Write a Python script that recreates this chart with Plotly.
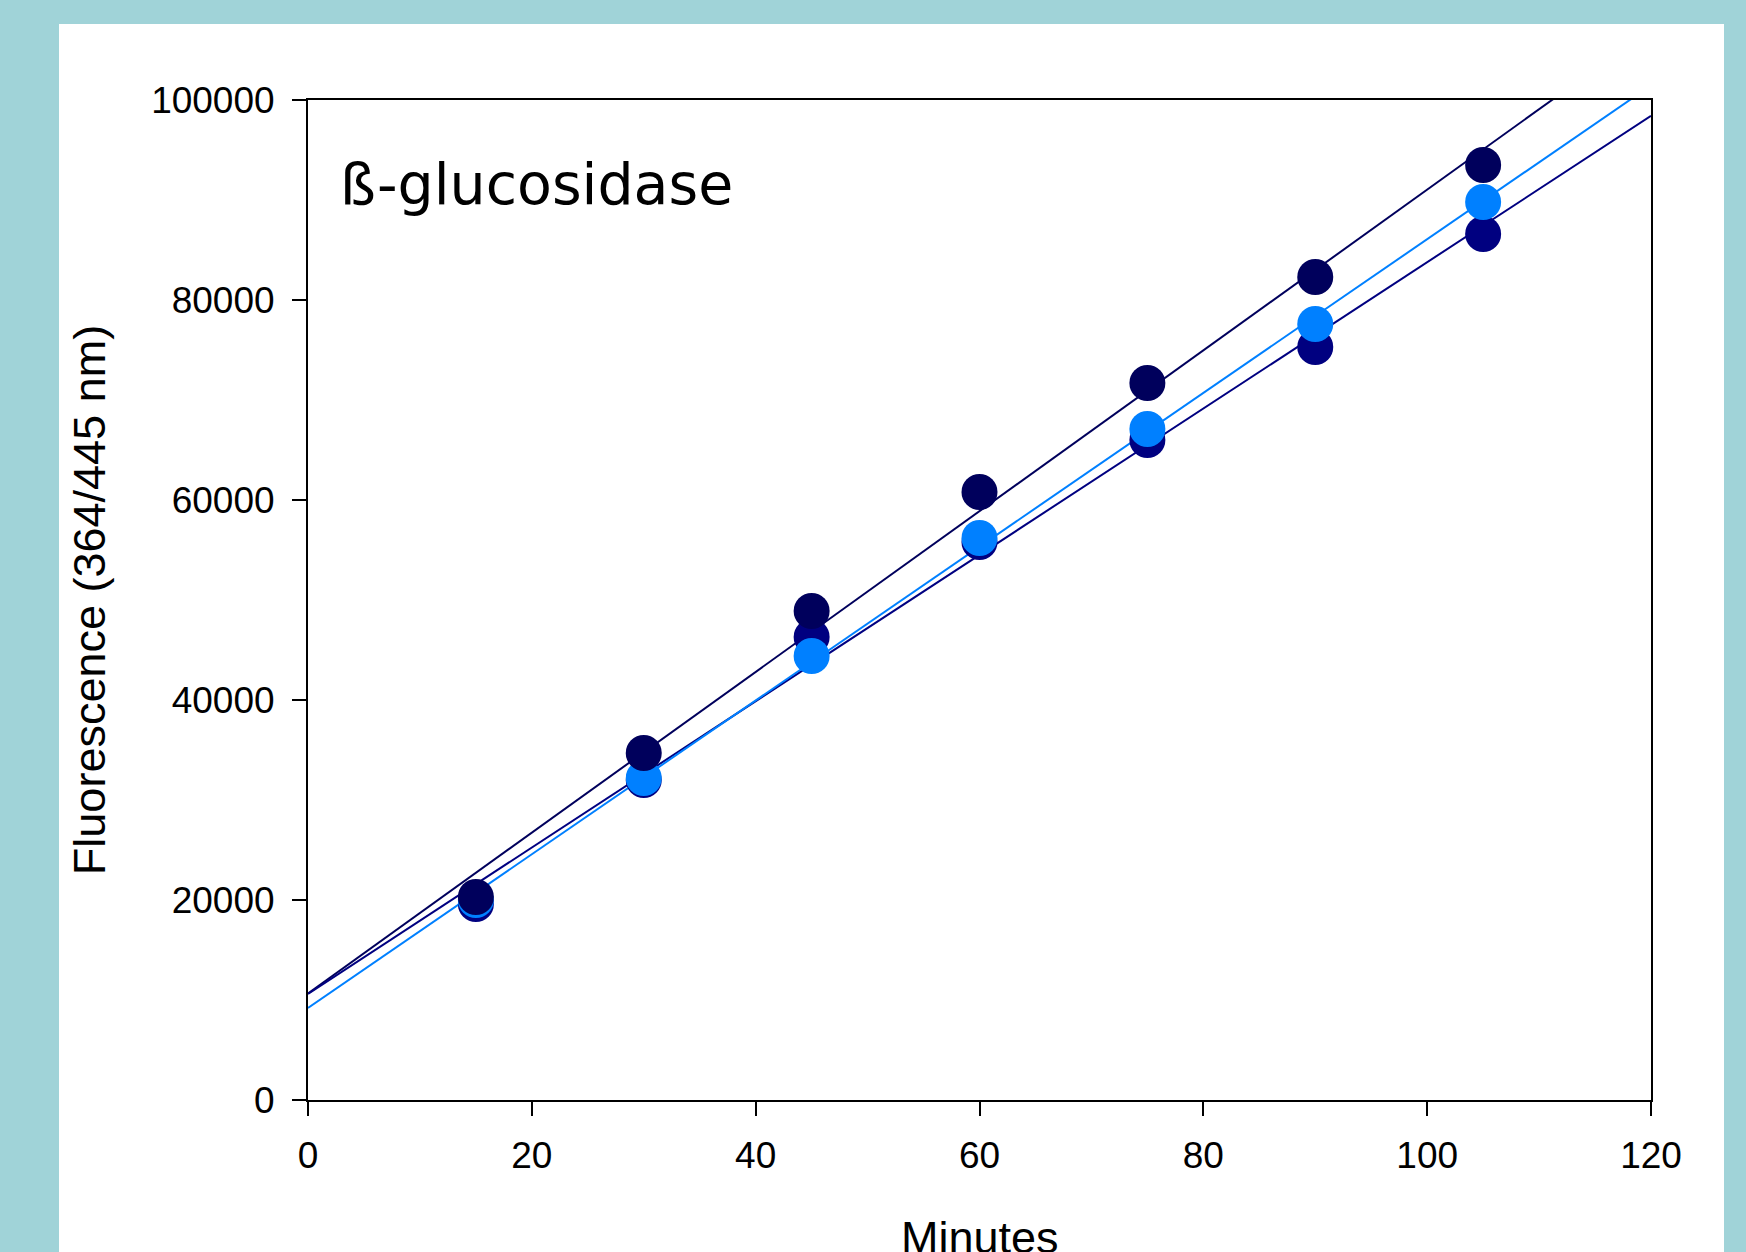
import numpy as np
import plotly.graph_objects as go

# ---- data ----
minutes = [15, 30, 45, 60, 75, 90, 105]
series_a = [20300, 34700, 48900, 60800, 71700, 82300, 93500]   # darkest navy (upper fit)
series_b = [19600, 32000, 46300, 55800, 66000, 75300, 86600]   # navy (lower fit)
series_c = [20000, 32200, 44400, 56200, 67100, 77600, 89800]   # light blue
x_ticks = [0, 20, 40, 60, 80, 100, 120]
y_ticks = [0, 20000, 40000, 60000, 80000, 100000]
title_text = "ß-glucosidase"
x_title = "Minutes"
y_title = "Fluorescence (364/445 nm)"

col_a = "#00005C"
col_b = "#000080"
col_c = "#0080FF"

W, H = 1746, 1252
L, R, T, B = 308, 95, 100, 152
pw, ph = W - L - R, H - T - B

fig = go.Figure()

fit_x = np.array([0.0, 120.0])
for ys, col in [(series_a, col_a), (series_b, col_b), (series_c, col_c)]:
    k, b0 = np.polyfit(minutes, ys, 1)
    fig.add_trace(go.Scatter(x=fit_x, y=k * fit_x + b0, mode="lines",
                             line=dict(color=col, width=2), hoverinfo="skip"))

for ys, col in [(series_b, col_b), (series_c, col_c), (series_a, col_a)]:
    fig.add_trace(go.Scatter(x=minutes, y=ys, mode="markers",
                             marker=dict(color=col, size=36, line=dict(width=0)),
                             cliponaxis=False))

def px(xpix):
    return (xpix - L) / pw

def py(ypix):
    return (T + ph - ypix) / ph

fig.add_shape(type="rect", xref="paper", yref="paper",
              x0=px(59), x1=px(1724), y0=py(1300), y1=py(24),
              fillcolor="white", line=dict(width=0), layer="below")

fig.add_annotation(text=title_text, xref="paper", yref="paper",
                   x=px(338), y=py(184), xanchor="left", yanchor="middle",
                   showarrow=False,
                   font=dict(family="DejaVu Sans", size=57, color="black"))

# x-axis title sits partly below the page edge in the reference
fig.add_annotation(text=x_title, xref="paper", yref="paper",
                   x=0.5, y=py(1237), xanchor="center", yanchor="middle",
                   showarrow=False,
                   font=dict(family="Liberation Sans, Arial", size=45, color="black"))

axis_common = dict(showline=True, linecolor="black", linewidth=2, mirror=True,
                   ticks="outside", ticklen=14, tickwidth=2, tickcolor="black",
                   showgrid=False, zeroline=False, automargin=False,
                   tickfont=dict(family="Liberation Sans, Arial", size=37, color="black"))

fig.update_xaxes(range=[0, 120], tickvals=x_ticks, ticklabelstandoff=8,
                 **axis_common)
fig.update_yaxes(range=[0, 100000], tickvals=y_ticks, tickformat="d", ticklabelstandoff=10,
                 title=dict(text=y_title, standoff=31,
                            font=dict(family="Liberation Sans, Arial", size=45, color="black")),
                 **axis_common)

fig.update_layout(width=W, height=H, showlegend=False,
                  margin=dict(l=L, r=R, t=T, b=B, pad=0),
                  paper_bgcolor="#A0D3D8", plot_bgcolor="white")

fig.write_html("out.html")
